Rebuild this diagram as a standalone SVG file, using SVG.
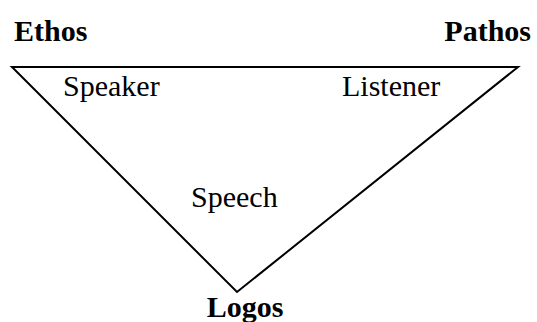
<svg xmlns="http://www.w3.org/2000/svg" width="537" height="322" viewBox="0 0 537 322">
  <style>
    .pole { font-family: "Liberation Serif", "Times New Roman", serif; font-size: 30px; font-weight: bold; fill: #000; }
    .role { font-family: "Liberation Serif", "Times New Roman", serif; font-size: 30px; fill: #000; }
    .edge { fill: none; stroke: #000; stroke-width: 2; stroke-linejoin: miter; }
  </style>
  <rect width="537" height="322" fill="#fff"/>
  <g id="connectors">
    <polygon class="edge" points="12,67 518,67 237,292"/>
  </g>
  <g id="ethos"><text class="pole" x="14" y="41">Ethos</text></g>
  <g id="pathos"><text class="pole" x="531" y="41" text-anchor="end">Pathos</text></g>
  <g id="logos"><text class="pole" x="245" y="317" text-anchor="middle">Logos</text></g>
  <g id="speaker"><text class="role" x="63" y="96">Speaker</text></g>
  <g id="listener"><text class="role" x="342" y="96">Listener</text></g>
  <g id="speech"><text class="role" x="191" y="207">Speech</text></g>
</svg>
